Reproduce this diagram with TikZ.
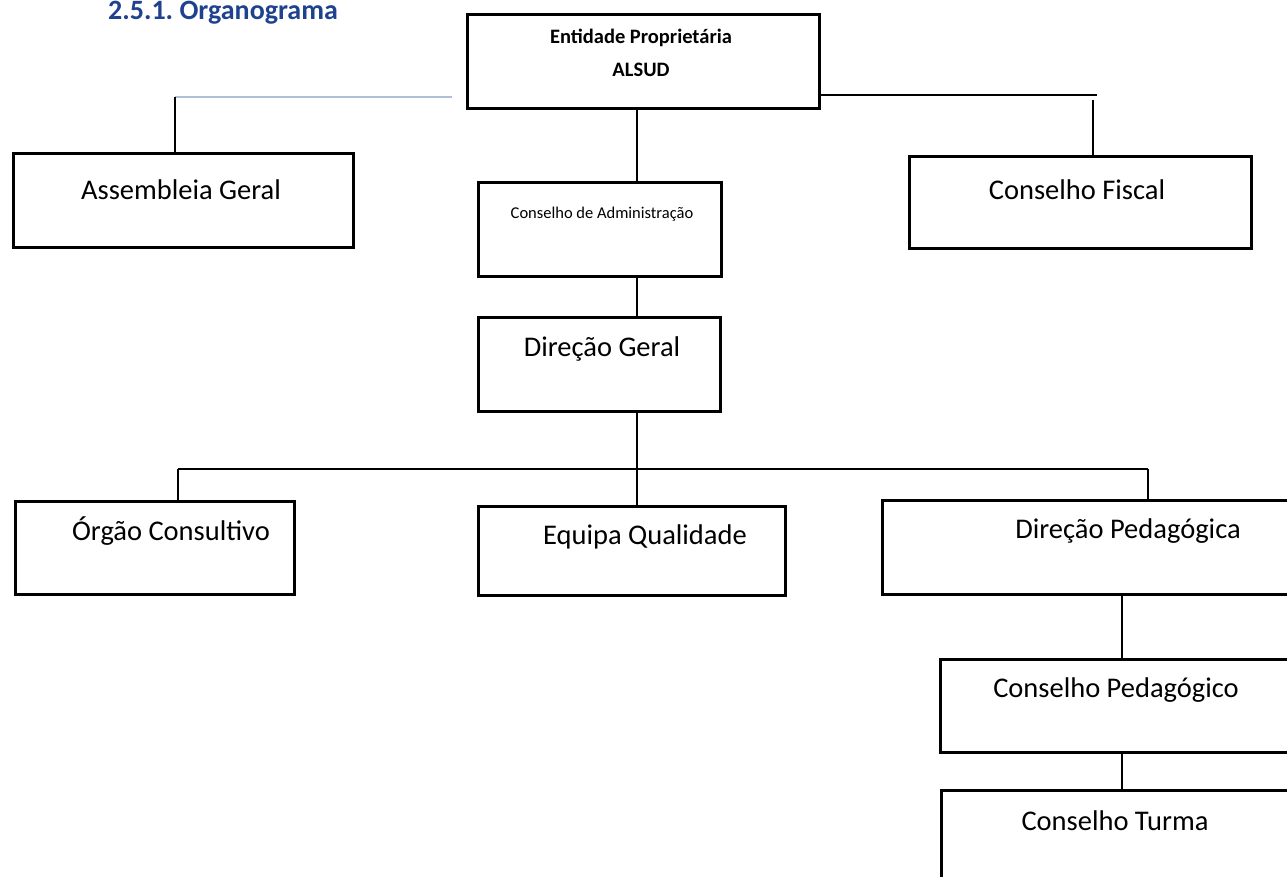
\documentclass[tikz,border=0pt]{standalone}
\usepackage{fontspec}
\setmainfont{Carlito}
\definecolor{headblue}{RGB}{31,66,143}
\definecolor{paleline}{RGB}{176,190,214}
\tikzset{
  orgbox/.style={draw=black, line width=2.6pt, rectangle, inner sep=0pt, anchor=north west},
  biglbl/.style={font=\fontsize{28.5}{31}\selectfont, inner sep=0pt},
  smalllbl/.style={font=\fontsize{16.5}{20}\selectfont, inner sep=0pt},
  boldlbl/.style={font=\bfseries\fontsize{20.5}{23}\selectfont, inner sep=0pt},
  conn/.style={draw=black, line width=1.8pt},
}
\begin{document}
\begin{tikzpicture}[x=1pt,y=-1pt]
\useasboundingbox (0,0) rectangle (1287,877);
\clip (0,0) rectangle (1287,877);
% heading
\node[anchor=north west, inner sep=0pt, text=headblue, font=\bfseries\fontsize{28}{30}\selectfont] (head) at (108,1) {2.5.1.\ Organograma};
% boxes
\node[orgbox, minimum width=352, minimum height=94] (ent) at (466,13) {};
\node[orgbox, minimum width=340, minimum height=94] (ag) at (12,152) {};
\node[orgbox, minimum width=243, minimum height=94] (ca) at (477,181) {};
\node[orgbox, minimum width=342, minimum height=92] (cf) at (908,155) {};
\node[orgbox, minimum width=242, minimum height=94] (dg) at (477,316) {};
\node[orgbox, minimum width=279, minimum height=93] (oc) at (14,500) {};
\node[orgbox, minimum width=307, minimum height=89] (eq) at (477,505) {};
\node[orgbox, minimum width=420, minimum height=94] (dp) at (881,499) {};
\node[orgbox, minimum width=360, minimum height=93] (cp) at (939,658) {};
\node[orgbox, minimum width=360, minimum height=110] (ct) at (940,789) {};
% labels
\node[boldlbl] (entt1) at (641,38) {Entidade Proprietária};
\node[boldlbl] (entt2) at (641,70) {ALSUD};
\node[biglbl] (agt) at (181,190) {Assembleia Geral};
\node[smalllbl] (cat) at (602,214) {Conselho de Administração};
\node[biglbl] (cft) at (1077,190) {Conselho Fiscal};
\node[biglbl] (dgt) at (602,349) {Direção Geral};
\node[biglbl] (oct) at (171,531) {Órgão Consultivo};
\node[biglbl] (eqt) at (645,537) {Equipa Qualidade};
\node[biglbl] (dpt) at (1128,531) {Direção Pedagógica};
\node[biglbl] (cpt) at (1116,690) {Conselho Pedagógico};
\node[biglbl] (ctt) at (1115,821) {Conselho Turma};
% connector points
\coordinate (lgap) at (452,97);
\coordinate (lcorner) at (175,97);
\coordinate (rcorner) at (1097,95);
\coordinate (rdrop) at (1093,100);
\coordinate (bus) at (637,469);
\coordinate (busl) at (178,469);
\coordinate (busr) at (1148,469);
% connectors
\draw[draw=paleline, line width=2pt] (lgap) -- (lcorner);
\draw[conn] (lcorner) -- (lcorner |- ag.north);
\draw[conn, line width=1.3pt] (ent.east |- rcorner) -- (rcorner);
\draw[conn] (rdrop) -- (rdrop |- cf.north);
\draw[conn] (ent.south -| bus) -- (ca.north -| bus);
\draw[conn] (ca.south -| bus) -- (dg.north -| bus);
\draw[conn] (dg.south -| bus) -- (bus);
\draw[conn] (busl) -- (busr);
\draw[conn] (busl) -- (busl |- oc.north);
\draw[conn] (bus) -- (bus |- eq.north);
\draw[conn] (busr) -- (busr |- dp.north);
\draw[conn] (dp.south -| 1122,0) -- (cp.north -| 1122,0);
\draw[conn, line width=2.6pt] (cp.south -| 1122,0) -- (ct.north -| 1122,0);
\end{tikzpicture}
\end{document}
